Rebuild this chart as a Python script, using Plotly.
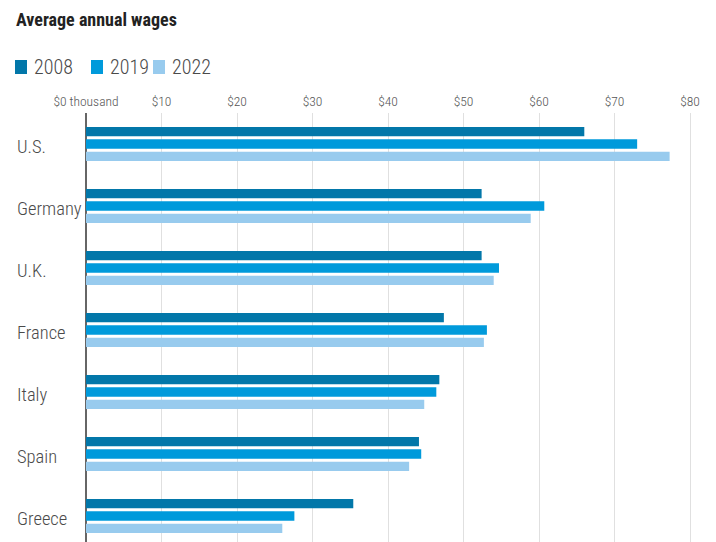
import plotly.graph_objects as go

# ---- data ----
countries = ["U.S.", "Germany", "U.K.", "France", "Italy", "Spain", "Greece"]
years = ["2008", "2019", "2022"]
wages_2008 = [66.0, 52.4, 52.4, 47.4, 46.8, 44.1, 35.4]
wages_2019 = [73.0, 60.7, 54.7, 53.1, 46.4, 44.4, 27.6]
wages_2022 = [77.3, 58.9, 54.0, 52.7, 44.8, 42.8, 26.0]
tick_vals = [0, 10, 20, 30, 40, 50, 60, 70, 80]
tick_text = ["$0 thousand", "$10", "$20", "$30", "$40", "$50", "$60", "$70", "$80"]

colors = ["#0277A9", "#009ADB", "#98CBEE"]
series = [wages_2008, wages_2019, wages_2022]

O = 8  # page body margin offset
W, H = 716 - O, 542 - O
L, R, T, B = 86 - O, 16, 113 - O, 0
PW, PH = W - L - R, H - T - B


def px_x(x):  # page pixel -> paper
    return (x - O - L) / PW


def px_y(y):
    return (H - B - (y - O)) / PH


NARROW = "Roboto Condensed, Roboto, sans-serif"

fig = go.Figure()
for name, vals, col in zip(years, series, colors):
    fig.add_trace(go.Bar(
        y=countries, x=vals, name=name, orientation="h",
        marker=dict(color=col, line=dict(width=0)),
        showlegend=False,
        hovertemplate="%{y} " + name + ": $%{x}k<extra></extra>",
    ))

shapes = []
annotations = []

annotations.append(dict(
    text="<b>Average annual wages</b>", xref="paper", yref="paper",
    x=px_x(14), y=px_y(20), xanchor="left", yanchor="middle", showarrow=False,
    font=dict(family=NARROW, size=18, color="#222222"),
))

leg_sq_x = [15, 91, 153]
for sx, name, col in zip(leg_sq_x, years, colors):
    shapes.append(dict(
        type="rect", xref="paper", yref="paper",
        x0=px_x(sx), x1=px_x(sx + 12), y0=px_y(74), y1=px_y(60),
        fillcolor=col, line=dict(width=0),
    ))
    annotations.append(dict(
        text=name, xref="paper", yref="paper",
        x=px_x(sx + 17), y=px_y(67), xanchor="left", yanchor="middle", showarrow=False,
        font=dict(family=NARROW, size=20, color="#4a4a4a", weight=300),
    ))

for c in countries:
    annotations.append(dict(
        text=c, xref="paper", yref="y", x=px_x(15), y=c,
        xanchor="left", yanchor="middle", showarrow=False, yshift=-3,
        font=dict(family=NARROW, size=18.5, color="#4a4a4a", weight=300),
    ))

fig.update_layout(
    width=W, height=H,
    margin=dict(l=L, r=R, t=T, b=B, pad=0),
    plot_bgcolor="white", paper_bgcolor="white",
    barmode="group", bargap=0.4, bargroupgap=0.24,
    shapes=shapes, annotations=annotations,
    xaxis=dict(
        side="top", range=[0, 80 / ((690 - 86) / PW)],
        tickvals=tick_vals, ticktext=tick_text,
        tickfont=dict(family=NARROW, size=13.5, color="#555555", weight=300),
        ticklabelstandoff=3,
        showgrid=True, gridcolor="#e0e0e0", gridwidth=1,
        zeroline=True, zerolinecolor="#666666", zerolinewidth=1.5,
        ticks="", showline=False, fixedrange=True,
    ),
    yaxis=dict(
        type="category", categoryorder="array", categoryarray=countries,
        range=[(PH / 62) - 0.5, -0.5],
        showticklabels=False, showgrid=False, zeroline=False, showline=False,
        ticks="", fixedrange=True,
    ),
    font=dict(family=NARROW),
)

fig.write_html("out.html")
